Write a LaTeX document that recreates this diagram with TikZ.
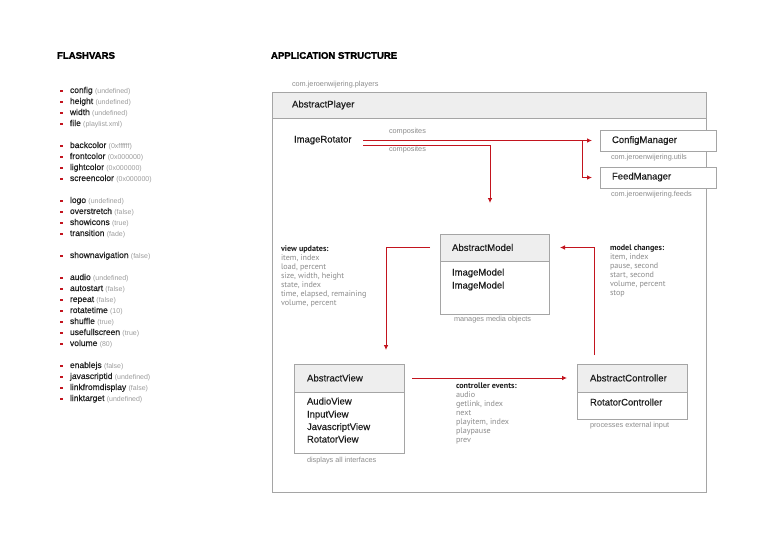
\documentclass[tikz,border=0pt]{standalone}
\usepackage{fontspec}
\setmainfont{Liberation Sans}
\newfontfamily\notefont{PT Sans}
\newfontfamily\headfont[FakeBold=1.6]{Liberation Sans Bold}
\newfontfamily\semifont[FakeBold=0.35]{Liberation Sans}
\usetikzlibrary{arrows.meta}
\definecolor{accent}{RGB}{195,20,30}
\definecolor{boxline}{RGB}{165,165,165}
\definecolor{headfill}{RGB}{238,238,238}
\definecolor{softtext}{RGB}{140,140,140}
\definecolor{valtext}{RGB}{155,155,155}
\definecolor{darktext}{RGB}{30,30,30}
\begin{document}
\begin{tikzpicture}[x=1pt,y=-1pt,
  every node/.style={inner sep=0pt, outer sep=0pt},
  heading/.style={anchor=west, font=\headfont\fontsize{9.6}{10}\selectfont, text=black},
  frame/.style={draw=boxline, line width=0.8pt, fill=white, anchor=north west},
  hdr/.style={draw=boxline, line width=0.8pt, fill=headfill, anchor=north west, align=left, inner xsep=12pt,
     font=\semifont\fontsize{9.6}{11}\selectfont, text=darktext},
  item/.style={anchor=west, font=\semifont\fontsize{9.5}{11}\selectfont, text=darktext, text height=7pt, text depth=2pt},
  pkg/.style={anchor=west, font=\fontsize{7.3}{9}\selectfont, text=softtext, text height=5.5pt, text depth=1.5pt},
  note/.style={anchor=north west, align=left, font=\notefont\fontsize{8.1}{9}\selectfont, text=softtext},
  flow/.style={draw=accent, line width=0.9pt, -{Latex[length=5pt,width=4.6pt]}},
  bul/.style={fill=accent, minimum width=2.4pt, minimum height=2.8pt},
  var/.style={anchor=west, font=\semifont\fontsize{8.5}{9}\selectfont, text=darktext, text height=6pt, text depth=2pt}
]
\useasboundingbox (0,0) rectangle (768,543);

% headings
\node[heading] (hflash) at (57,55.5) {FLASHVARS};
\node[heading] (happ) at (271,55.5) {APPLICATION STRUCTURE};

% flashvars list
\foreach \i/\n/\v in {0/config/undefined, 1/height/undefined, 2/width/undefined, 3/file/playlist.xml,
  5/backcolor/0xffffff, 6/frontcolor/0x000000, 7/lightcolor/0x000000, 8/screencolor/0x000000,
  10/logo/undefined, 11/overstretch/false, 12/showicons/true, 13/transition/fade,
  15/shownavigation/false,
  17/audio/undefined, 18/autostart/false, 19/repeat/false, 20/rotatetime/10, 21/shuffle/true, 22/usefullscreen/true, 23/volume/80,
  25/enablejs/false, 26/javascriptid/undefined, 27/linkfromdisplay/false, 28/linktarget/undefined}{
  \node[bul] (b\i) at (61.5,91+11*\i) {};
  \node[var] (v\i) at (70,91+11*\i) {\n\ {\normalfont\fontsize{7}{9}\selectfont\color{valtext}(\v)}};
}

% outer player box
\node[pkg] (pkgplayers) at (292,84) {com.jeroenwijering.players};
\node[frame, minimum width=434pt, minimum height=400pt] (player) at (272,92) {};
\node[hdr, minimum width=434pt, minimum height=26pt, text width=394pt, inner xsep=20pt] (playerH) at (272,92) {AbstractPlayer};

% ImageRotator
\node[item] (ir) at (294,140) {ImageRotator};
\coordinate (ir1) at (363,140.5);
\coordinate (ir2) at (363,145.5);
\coordinate (split) at (582,140.5);

% right-hand managers
\node[frame, minimum width=116pt, minimum height=21pt] (cfg) at (600,130) {};
\node[item] (cfgt) at (612,140.5) {ConfigManager};
\node[pkg] (cfglab) at (611,157) {com.jeroenwijering.utils};
\node[frame, minimum width=116pt, minimum height=21pt] (feed) at (600,167) {};
\node[item] (feedt) at (612,177) {FeedManager};
\node[pkg] (feedlab) at (611,194) {com.jeroenwijering.feeds};

% model box
\node[frame, minimum width=109pt, minimum height=80pt] (model) at (440,234) {};
\node[hdr, minimum width=109pt, minimum height=27pt, text width=85pt] (modelH) at (440,234) {AbstractModel};
\node[item] (m1) at (452,273) {ImageModel};
\node[item] (m2) at (452,286) {ImageModel};
\node[pkg] (mlab) at (454,319.5) {manages media objects};

% view box
\node[frame, minimum width=110pt, minimum height=89pt] (view) at (294,364) {};
\node[hdr, minimum width=110pt, minimum height=28pt, text width=84pt, inner xsep=13pt] (viewH) at (294,364) {AbstractView};
\node[item] (w1) at (307,402) {AudioView};
\node[item] (w2) at (307,415) {InputView};
\node[item] (w3) at (307,427.5) {JavascriptView};
\node[item] (w4) at (307,440) {RotatorView};
\node[pkg] (wlab) at (307,460.5) {displays all interfaces};

% controller box
\node[frame, minimum width=110pt, minimum height=55pt] (ctrl) at (577,364) {};
\node[hdr, minimum width=110pt, minimum height=28pt, text width=84pt, inner xsep=13pt] (ctrlH) at (577,364) {AbstractController};
\node[item] (c1) at (590,403) {RotatorController};
\node[pkg] (clab) at (590,425.5) {processes external input};

% connectors
\draw[flow, shorten >=8pt] (ir1) -- (split) -- (split -| cfg.west);
\draw[flow, shorten >=8pt] (split) |- (feed.west);
\draw[flow, shorten >=31pt] (ir2) -| ([xshift=-4.5pt]modelH.north);
\draw[flow, shorten >=14pt] ([xshift=-10pt]modelH.west) -| ([xshift=37pt]viewH.north);
\draw[flow, shorten >=11pt] ([xshift=-38pt,yshift=9pt]ctrlH.north) |- (modelH.east);
\draw[flow, shorten >=10pt] ([xshift=8pt]viewH.east) -- (ctrlH.west);

% composites labels
\node[pkg] (comp1) at (389,131) {composites};
\node[pkg] (comp2) at (389,149.5) {composites};

% notes
\node[note] (nview) at (281,246) {{\bfseries\color{darktext}view updates:}\\item, index\\load, percent\\size, width, height\\state, index\\time, elapsed, remaining\\volume, percent};
\node[note] (nmodel) at (610,245) {{\bfseries\color{darktext}model changes:}\\item, index\\pause, second\\start, second\\volume, percent\\stop};
\node[note] (nctrl) at (456,383) {{\bfseries\color{darktext}controller events:}\\audio\\getlink, index\\next\\playitem, index\\playpause\\prev};
\end{tikzpicture}
\end{document}
